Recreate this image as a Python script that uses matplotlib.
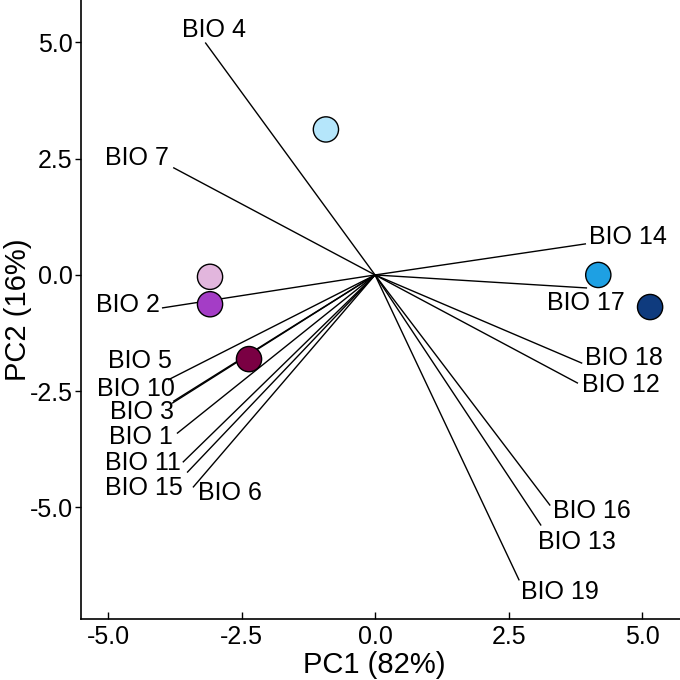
import matplotlib
matplotlib.use("Agg")
import matplotlib.pyplot as plt

plt.rcParams['font.family'] = ['Liberation Sans', 'DejaVu Sans']

# Variable loadings (arrow ends)
variables = ["BIO 4", "BIO 7", "BIO 14", "BIO 17", "BIO 18", "BIO 12", "BIO 2",
             "BIO 5", "BIO 10", "BIO 3", "BIO 1", "BIO 11", "BIO 15", "BIO 6",
             "BIO 16", "BIO 13", "BIO 19"]
load_pc1 = [-3.18, -3.78, 3.95, 3.97, 3.88, 3.80, -3.99,
            -3.88, -3.80, -3.78, -3.71, -3.60, -3.52, -3.41,
            3.28, 3.11, 2.70]
load_pc2 = [5.00, 2.31, 0.67, -0.28, -1.90, -2.33, -0.71,
            -2.26, -2.76, -2.72, -3.41, -4.03, -4.25, -4.57,
            -4.96, -5.39, -6.57]

# Sample scores
score_pc1 = [-0.92, -3.09, -3.09, -2.36, 4.18, 5.15]
score_pc2 = [3.13, -0.04, -0.63, -1.81, 0.00, -0.69]
score_colors = ["#B5E6FB", "#E2B6DD", "#A43DC6", "#7A0043", "#1EA0E3", "#0F3B7E"]

x_ticks = [-5.0, -2.5, 0.0, 2.5, 5.0]
y_ticks = [-5.0, -2.5, 0.0, 2.5, 5.0]

# label offsets (pixels) from arrow ends
label_offsets = [(9, 12), (-36, 10), (42, 7), (-1, -15), (42, 5), (43, -2), (-34, 3),
                 (-28, 19), (-36, 14), (-31, -11), (-36, -4), (-40, -1), (-43, -15), (37, -6),
                 (42, -5), (36, -16), (41, -12)]

fig = plt.figure(figsize=(6.8, 6.8), dpi=100)
ax = fig.add_axes([81/680, 61/680, 599/680, 619/680])

for name, x, y, off in zip(variables, load_pc1, load_pc2, label_offsets):
    ax.plot([0, x], [0, y], color="black", lw=1.0, solid_capstyle="butt", zorder=2)
    ax.annotate(name, xy=(x, y), xytext=off, textcoords="offset pixels",
                ha="center", va="center", fontsize=18, color="black", zorder=4)

ax.scatter(score_pc1, score_pc2, s=330, c=score_colors, edgecolors="black",
           linewidths=1.0, zorder=3)

ax.set_xlim(-5.506, 5.71)
ax.set_ylim(-7.40, 5.914)
ax.set_xticks(x_ticks)
ax.set_yticks(y_ticks)
ax.set_xticklabels([f"{v:.1f}" for v in x_ticks])
ax.set_yticklabels([f"{v:.1f}" for v in y_ticks])
ax.tick_params(axis="x", direction="in", length=5, width=1, labelsize=18, pad=4, colors="black")
ax.tick_params(axis="y", direction="out", length=4, width=1, labelsize=18, pad=2, colors="black")

for side in ["top", "right"]:
    ax.spines[side].set_visible(False)
for side in ["left", "bottom"]:
    ax.spines[side].set_linewidth(1.2)
    ax.spines[side].set_color("black")

ax.set_xlabel("PC1 (82%)", fontsize=21)
ax.set_ylabel("PC2 (16%)", fontsize=21)
ax.xaxis.set_label_coords(0.49, -46/619, transform=None) if False else ax.xaxis.set_label_coords(0.49, -0.075)
ax.yaxis.set_label_coords(-0.105, 0.5)
ax.xaxis.label.set_va("center")
ax.yaxis.label.set_va("center")

fig.savefig("out.png", dpi=100)
